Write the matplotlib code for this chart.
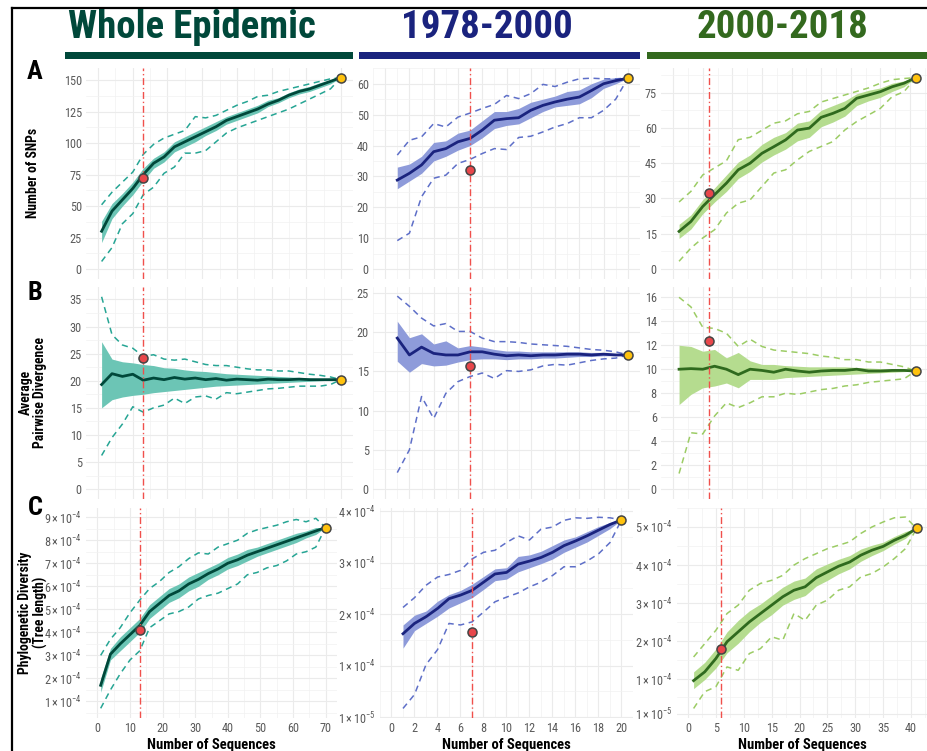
import matplotlib
matplotlib.use('Agg')
import matplotlib.pyplot as plt
from matplotlib import font_manager as fm
from matplotlib.lines import Line2D
from matplotlib.patches import Rectangle
import numpy as np

# ---------------- fonts ----------------
names = {f.name for f in fm.fontManager.ttflist}
COND = None
for cand in ['Roboto Condensed', 'Open Sans Condensed', 'Liberation Sans Narrow']:
    if cand in names:
        COND = cand
        break
BASE = COND or 'Roboto'
TSCALE = 1.0 if COND else 0.82
plt.rcParams['font.family'] = [BASE, 'DejaVu Sans']
plt.rcParams['mathtext.fontset'] = 'custom'
plt.rcParams['mathtext.rm'] = BASE
plt.rcParams['mathtext.it'] = BASE + ':italic'
plt.rcParams['mathtext.bf'] = BASE + ':bold'

# ---------------- data ----------------
titles = ['Whole Epidemic', '1978-2000', '2000-2018']
row_letters = ['A', 'B', 'C']
row_titles = ['Number of SNPs', 'Average\nPairwise Divergence', 'Phylogenetic Diversity\n(Tree length)']
xlabel = 'Number of Sequences'

X1 = [1, 4, 7, 10, 13, 16, 19, 22, 25, 28, 31, 34, 37, 40, 43, 46, 49, 52, 55, 58, 61, 64, 67, 70]
X2 = [1, 2, 3, 4, 5, 6, 7, 8, 9, 10, 11, 12, 13, 14, 15, 16, 17, 18, 19, 20]
X3 = [1, 3, 5, 7, 9, 11, 13, 15, 17, 19, 21, 23, 25, 27, 29, 31, 33, 35, 37, 39, 41]

# Row A: number of SNPs
A1_med = [30, 46, 55, 64, 75, 84, 89, 97, 101, 105, 109, 113, 118, 121, 124, 127, 131, 134, 138, 141, 143, 146, 149, 152]
A1_lo = [21, 40, 50, 59, 70, 80, 85, 93, 97, 101, 106, 110, 115, 118, 121, 124, 129, 132, 136, 139, 141, 144, 147, 152]
A1_hi = [38, 52, 60, 69, 80, 88, 93, 101, 105, 109, 113, 117, 121, 124, 127, 130, 134, 136, 140, 143, 145, 148, 150, 152]
A1_dhi = [51, 61, 69, 77, 91, 99, 104, 107, 110, 121, 120, 122, 126, 130, 133, 137, 138, 141, 143, 145, 147, 149, 151, 152]
A1_dlo = [6, 17, 36, 44, 59, 65, 76, 81, 92, 92, 94, 101, 108, 112, 115, 118, 121, 124, 127, 131, 135, 139, 143, 152]

A2_med = [28.8, 31, 33.7, 38, 39, 41.2, 42.3, 45, 48.2, 48.7, 49, 51.4, 53, 54.1, 55, 55.7, 57.8, 60, 61, 61.8]
A2_lo = [26, 28.5, 31, 35, 36.5, 38.5, 40, 42.5, 45.5, 46.5, 47, 49, 51, 52.5, 53, 53.5, 55.5, 58.5, 60, 61.8]
A2_hi = [33, 34, 36.5, 41, 41.5, 44, 45, 48, 51, 51, 52, 54, 55, 56, 57.5, 58, 60, 61.5, 62, 61.8]
A2_dhi = [36.9, 41.7, 42.8, 47.1, 46, 49.2, 50.5, 52, 53.3, 56.2, 55.2, 56.8, 59.8, 59.1, 60.5, 61.6, 61.8, 61.6, 61.6, 61.8]
A2_dlo = [9.2, 11.6, 23.4, 29.4, 30.4, 34.2, 35.5, 37.4, 39, 38.7, 42.6, 43, 44.4, 46, 47.1, 49, 49, 51.4, 55, 61.8]

A3_med = [16, 20.2, 26.6, 31.6, 36.5, 42.2, 45, 49.2, 52, 54.9, 59.1, 59.9, 64.5, 66.2, 68.3, 72.6, 74, 75.4, 77.5, 79, 81.4]
A3_lo = [13, 17, 23.5, 28.5, 33, 38.5, 41.5, 45.5, 48.5, 51, 54.5, 56, 60.5, 62.5, 65, 69.5, 71.5, 73, 75.5, 77.5, 81.4]
A3_hi = [19, 23, 29.5, 34.5, 40, 45.5, 48.5, 53, 56, 58, 62, 63, 67.5, 69.5, 71.5, 74.5, 76, 77, 79, 80, 81.4]
A3_dhi = [28.5, 33, 40, 43, 46, 55, 56, 59, 62, 63, 66, 67, 71, 72.5, 74, 75.5, 77, 79, 80.5, 81, 81.4]
A3_dlo = [3.3, 8.9, 13.2, 16.7, 23.8, 28, 29.4, 35.1, 40.8, 42.2, 46.4, 50, 52.1, 54.2, 59.1, 62.7, 65.5, 68.3, 73.3, 75.4, 81.4]

# Row B: average pairwise divergence
B1_med = [19.3, 21.3, 20.8, 21.2, 20.1, 20.5, 20.2, 20.6, 20.3, 20.5, 20.2, 20.4, 20.1, 20.3, 20.2, 20.1, 20.3, 20.2, 20.2, 20.3, 20.2, 20.2, 20.2, 20.2]
B1_lo = [15.0, 16.5, 17.0, 17.3, 17.5, 17.8, 18.0, 18.2, 18.4, 18.6, 18.8, 19.0, 19.1, 19.2, 19.3, 19.4, 19.5, 19.6, 19.7, 19.8, 19.9, 20.0, 20.1, 20.2]
B1_hi = [27.2, 24.0, 23.5, 23.3, 23.0, 22.8, 22.4, 22.3, 22.0, 21.8, 21.7, 21.5, 21.3, 21.2, 21.1, 21.0, 20.9, 20.8, 20.7, 20.6, 20.5, 20.4, 20.3, 20.2]
B1_dhi = [35.5, 28.5, 26.6, 26.0, 24.5, 24.8, 24.0, 23.8, 24.0, 23.5, 23.0, 22.8, 22.8, 22.5, 22.2, 22.0, 22.0, 21.8, 21.8, 21.5, 21.2, 21.0, 20.7, 20.2]
B1_dlo = [6.2, 9.5, 12.0, 15.2, 14.2, 15.0, 15.5, 16.8, 15.8, 17.0, 17.2, 16.6, 17.8, 17.6, 17.9, 18.2, 18.5, 18.6, 18.8, 19.0, 19.0, 19.0, 19.3, 20.2]

B2_med = [19.25, 17.1, 18.1, 17.3, 17.1, 17.1, 17.5, 17.5, 17.2, 17.0, 17.1, 17.0, 17.1, 17.1, 17.2, 17.2, 17.1, 17.2, 17.1, 17.1]
B2_lo = [16.3, 14.9, 16.0, 15.7, 15.8, 16.2, 16.5, 16.6, 16.6, 16.5, 16.6, 16.6, 16.7, 16.7, 16.8, 16.9, 16.9, 17.0, 17.0, 17.1]
B2_hi = [21.4, 19.3, 19.8, 18.5, 18.9, 18.0, 18.3, 18.1, 17.8, 17.6, 17.6, 17.5, 17.5, 17.5, 17.5, 17.5, 17.4, 17.4, 17.3, 17.1]
B2_dhi = [24.6, 23.3, 21.8, 20.8, 21.1, 20.1, 20.1, 19.25, 18.8, 18.8, 18.7, 18.5, 18.4, 18.3, 18.2, 18.0, 17.8, 17.7, 17.5, 17.1]
B2_dlo = [2.1, 5.0, 11.8, 9.0, 12.2, 13.7, 14.35, 14.8, 14.1, 15.1, 15.0, 15.2, 15.7, 15.9, 15.8, 16.1, 16.4, 16.6, 16.7, 17.1]

B3_med = [10.0, 10.05, 10.0, 10.25, 10.0, 9.55, 10.0, 9.9, 9.75, 10.0, 9.85, 9.75, 9.85, 9.9, 9.9, 10.0, 9.85, 9.85, 9.9, 9.9, 9.85]
B3_lo = [7.05, 7.9, 8.45, 8.6, 8.85, 8.45, 9.15, 9.15, 9.15, 9.3, 9.35, 9.4, 9.45, 9.5, 9.55, 9.6, 9.65, 9.7, 9.75, 9.8, 9.85]
B3_hi = [12.0, 11.9, 11.5, 11.65, 10.95, 11.4, 10.7, 10.4, 10.4, 10.3, 10.25, 10.2, 10.2, 10.2, 10.2, 10.15, 10.1, 10.05, 10.0, 9.95, 9.85]
B3_dhi = [16.0, 15.2, 13.5, 13.4, 13.0, 11.9, 12.5, 11.9, 11.6, 11.5, 11.4, 11.3, 11.1, 11.0, 10.8, 10.8, 10.6, 10.6, 10.4, 10.2, 9.85]
B3_dlo = [1.3, 4.7, 4.6, 6.1, 7.2, 6.8, 7.2, 7.7, 7.7, 8.0, 7.9, 8.1, 8.3, 8.4, 8.6, 8.7, 8.9, 9.0, 9.1, 9.2, 9.85]

# Row C: phylogenetic diversity, values in units of 1e-4
C1_med = [1.7, 3.05, 3.5, 3.9, 4.3, 4.9, 5.25, 5.6, 5.8, 6.1, 6.3, 6.55, 6.75, 7.0, 7.15, 7.35, 7.5, 7.65, 7.8, 7.95, 8.1, 8.25, 8.4, 8.55]
C1_lo = [1.4, 2.8, 3.2, 3.6, 4.0, 4.6, 4.95, 5.3, 5.5, 5.8, 6.0, 6.3, 6.5, 6.75, 6.9, 7.1, 7.3, 7.45, 7.6, 7.75, 7.9, 8.1, 8.25, 8.55]
C1_hi = [2.0, 3.3, 3.8, 4.2, 4.6, 5.2, 5.55, 5.9, 6.1, 6.4, 6.6, 6.8, 7.0, 7.25, 7.4, 7.6, 7.7, 7.85, 8.0, 8.15, 8.3, 8.4, 8.55, 8.55]
C1_dhi = [3.0, 3.7, 4.2, 4.85, 5.4, 5.9, 6.2, 6.6, 6.85, 7.2, 7.45, 7.4, 7.7, 7.85, 8.0, 8.3, 8.45, 8.55, 8.65, 8.8, 8.9, 8.8, 8.95, 8.55]
C1_dlo = [0.7, 1.5, 2.2, 2.8, 3.2, 4.2, 4.5, 4.8, 4.9, 5.1, 5.45, 5.6, 5.7, 5.9, 6.1, 6.5, 6.6, 6.8, 6.9, 7.1, 7.4, 7.5, 7.7, 8.55]

C2_med = [1.62, 1.82, 1.95, 2.11, 2.3, 2.37, 2.46, 2.62, 2.78, 2.81, 2.97, 3.03, 3.1, 3.2, 3.33, 3.42, 3.52, 3.63, 3.74, 3.83]
C2_lo = [1.34, 1.68, 1.82, 1.96, 2.12, 2.22, 2.32, 2.48, 2.65, 2.68, 2.82, 2.9, 2.98, 3.07, 3.2, 3.3, 3.4, 3.53, 3.66, 3.83]
C2_hi = [1.79, 1.98, 2.06, 2.25, 2.38, 2.46, 2.58, 2.73, 2.88, 2.9, 3.12, 3.15, 3.22, 3.33, 3.44, 3.5, 3.6, 3.7, 3.78, 3.83]
C2_dhi = [2.13, 2.32, 2.56, 2.72, 2.77, 2.85, 3.07, 3.2, 3.24, 3.39, 3.52, 3.44, 3.65, 3.69, 3.82, 3.87, 3.86, 3.88, 3.87, 3.83]
C2_dlo = [0.17, 0.44, 1.02, 1.31, 1.82, 1.79, 1.85, 2.04, 2.24, 2.33, 2.41, 2.53, 2.62, 2.75, 2.92, 2.92, 3.03, 3.17, 3.39, 3.83]

C3_med = [0.97, 1.2, 1.55, 1.99, 2.25, 2.51, 2.73, 2.95, 3.17, 3.34, 3.43, 3.67, 3.82, 3.97, 4.08, 4.26, 4.39, 4.49, 4.65, 4.78, 4.96]
C3_lo = [0.76, 1.0, 1.3, 1.7, 1.95, 2.25, 2.5, 2.7, 2.95, 3.1, 3.2, 3.45, 3.6, 3.77, 3.9, 4.1, 4.25, 4.38, 4.55, 4.7, 4.96]
C3_hi = [1.2, 1.45, 1.8, 2.25, 2.55, 2.8, 2.98, 3.2, 3.42, 3.58, 3.66, 3.9, 4.03, 4.15, 4.25, 4.42, 4.52, 4.6, 4.75, 4.88, 4.96]
C3_dhi = [1.59, 1.94, 2.29, 2.73, 2.95, 3.34, 3.52, 3.6, 3.73, 4.0, 4.17, 4.3, 4.43, 4.52, 4.61, 4.83, 5.0, 5.13, 5.24, 5.26, 4.96]
C3_dlo = [0.24, 0.68, 0.81, 1.33, 1.24, 1.68, 1.81, 2.12, 2.03, 2.73, 2.55, 2.95, 3.08, 3.34, 3.43, 3.69, 3.78, 3.95, 4.17, 4.43, 4.96]

# observed (red) points: x position and value per row
RED_X = [13, 7, 6]
RED_A = [72, 32, 32.3]
RED_B = [24.2, 15.7, 12.35]
RED_C = [4.1, 1.65, 1.8]   # units of 1e-4

# tick values
XT = [[0, 10, 20, 30, 40, 50, 60, 70], [0, 2, 4, 6, 8, 10, 12, 14, 16, 18, 20], [0, 5, 10, 15, 20, 25, 30, 35, 40]]
YT_A = [[0, 25, 50, 75, 100, 125, 150], [0, 10, 20, 30, 40, 50, 60], [0, 15, 30, 45, 60, 75]]
YT_B = [[0, 5, 10, 15, 20, 25, 30, 35], [0, 5, 10, 15, 20, 25], [0, 2, 4, 6, 8, 10, 12, 14, 16]]
YT_C = [[1, 2, 3, 4, 5, 6, 7, 8, 9], [0, 1, 2, 3, 4], [0.1, 1, 2, 3, 4, 5]]   # units of 1e-4
YL_C = [[r'$%d\times10^{-4}$' % v for v in YT_C[0]],
        [r'$1\times10^{-5}$'] + [r'$%d\times10^{-4}$' % v for v in YT_C[1][1:]],
        [r'$1\times10^{-5}$'] + [r'$%d\times10^{-4}$' % v for v in YT_C[2][1:]]]

# ---------------- style ----------------
PAL = [
    dict(title='#00483A', line='#00483A', band='#6CC5B5', dash='#26A594'),
    dict(title='#1A237E', line='#1A237E', band='#8E9BDA', dash='#5E6FC8'),
    dict(title='#33691E', line='#2F6A1E', band='#B5DC8F', dash='#9CCC65'),
]
W, H = 928, 751
fig = plt.figure(figsize=(W / 100, H / 100), dpi=100)
fig.patch.set_facecolor('white')

def add_ax(l, t, r, b):
    return fig.add_axes([l / W, 1 - b / H, (r - l) / W, (b - t) / H])

ROWS_TB = [(68, 278.6), (286.5, 498.7), (507.5, 718)]
COLS_AB = [(86, 353), (373, 640), (661, 928)]
COLS_C = [(86, 337), (380, 633), (676.6, 928)]
XLIM = [(-3.5, 73.5), (-1, 21), (-2.05, 43.05)]
YLIM_A = [(-7.6, 159.6), (-3.1, 65.1), (-4.07, 85.47)]
YLIM_B = [(-1.78, 37.4), (-1.23, 25.83), (-0.8, 16.9)]
YLIM_C = [(0.28e-4, 9.42e-4), (-0.0155e-4, 4.07e-4), (-0.01e-4, 5.51e-4)]

TICK_FS = 8.8
def minors(major, lim):
    step = major[-1] - major[-2]
    mids = [(a + b) / 2 for a, b in zip(major[:-1], major[1:])]
    mids += [major[0] - step / 2, major[-1] + step / 2]
    return [m for m in mids if lim[0] <= m <= lim[1]]

def panel(ax, x, med, lo, hi, dlo, dhi, rx, ry, pal, xlim, ylim, xt, yt, ylabels, show_x, scale=1.0):
    x = np.asarray(x)
    med = np.asarray(med) * scale
    lo = np.asarray(lo) * scale
    hi = np.asarray(hi) * scale
    dlo = np.asarray(dlo) * scale
    dhi = np.asarray(dhi) * scale
    ax.set_xlim(xlim)
    ax.set_ylim(ylim)
    ax.set_xticks(xt)
    ax.set_xticks(minors(xt, xlim), minor=True)
    ytv = [v * scale for v in yt]
    ax.set_yticks(ytv)
    ax.set_yticks(minors(ytv, ylim), minor=True)
    if ylabels is not None:
        ax.set_yticklabels(ylabels)
    else:
        ax.set_yticklabels([str(v) for v in yt])
    if not show_x:
        ax.set_xticklabels([])
    ax.grid(which='major', color='#EBEBEB', lw=0.8)
    ax.grid(which='minor', color='#F2F2F2', lw=0.5)
    ax.set_axisbelow(True)
    for s in ax.spines.values():
        s.set_visible(False)
    ax.tick_params(which='both', length=0, labelsize=TICK_FS, labelcolor='#5A5A5A', pad=3)
    ax.fill_between(x, lo, hi, color=pal['band'], lw=0, zorder=2)
    ax.plot(x, dhi, color=pal['dash'], lw=1.1, dashes=(4, 3), zorder=3)
    ax.plot(x, dlo, color=pal['dash'], lw=1.1, dashes=(4, 3), zorder=3)
    ax.plot(x, med, color=pal['line'], lw=2.0, zorder=4, solid_joinstyle='round')
    ax.axvline(rx, color='#F0504C', lw=1.0, dashes=(5, 2, 1, 2), zorder=5)
    ax.plot([rx], [ry * scale], 'o', ms=6.5, mfc='#E8474B', mec='#444444', mew=1.1, zorder=6)
    ax.plot([x[-1]], [med[-1]], 'o', ms=6.5, mfc='#FFC20E', mec='#444444', mew=1.1, zorder=6)
    if show_x:
        ax.set_xlabel(xlabel, fontsize=10.5, fontweight='bold', labelpad=2)

DATA = [
    [(X1, A1_med, A1_lo, A1_hi, A1_dlo, A1_dhi), (X2, A2_med, A2_lo, A2_hi, A2_dlo, A2_dhi), (X3, A3_med, A3_lo, A3_hi, A3_dlo, A3_dhi)],
    [(X1, B1_med, B1_lo, B1_hi, B1_dlo, B1_dhi), (X2, B2_med, B2_lo, B2_hi, B2_dlo, B2_dhi), (X3, B3_med, B3_lo, B3_hi, B3_dlo, B3_dhi)],
    [(X1, C1_med, C1_lo, C1_hi, C1_dlo, C1_dhi), (X2, C2_med, C2_lo, C2_hi, C2_dlo, C2_dhi), (X3, C3_med, C3_lo, C3_hi, C3_dlo, C3_dhi)],
]
REDS = [RED_A, RED_B, RED_C]
YLIMS = [YLIM_A, YLIM_B, YLIM_C]
YTS = [YT_A, YT_B, YT_C]

for r in range(3):
    t, b = ROWS_TB[r]
    for c in range(3):
        l, rr = (COLS_C if r == 2 else COLS_AB)[c]
        ax = add_ax(l, t, rr, b)
        x, med, lo, hi, dlo, dhi = DATA[r][c]
        panel(ax, x, med, lo, hi, dlo, dhi, RED_X[c], REDS[r][c], PAL[c], XLIM[c], YLIMS[r][c],
              XT[c], YTS[r][c], YL_C[c] if r == 2 else None, r == 2, scale=1e-4 if r == 2 else 1.0)

# titles and colour bars
TITLE_X = [192, 487, 783]
BARS = [(65, 353), (359, 640), (647, 928)]
for c in range(3):
    fig.text(TITLE_X[c] / W, 1 - 27 / H, titles[c], fontsize=28 * TSCALE, fontweight='bold',
             color=PAL[c]['title'], ha='center', va='center')
    l, r = BARS[c]
    fig.patches.append(Rectangle((l / W, 1 - 59 / H), (r - l) / W, 7 / H, transform=fig.transFigure,
                                 color=PAL[c]['title'], lw=0))

# row letters and row titles
LET_Y = [72, 293, 508]
for r in range(3):
    fig.text(35 / W, 1 - LET_Y[r] / H, row_letters[r], fontsize=19, fontweight='bold', ha='center', va='center')
    t, b = ROWS_TB[r]
    fig.text(33 / W, 1 - (t + b) / 2 / H, row_titles[r], fontsize=9.8, fontweight='bold', rotation=90,
             ha='center', va='center', multialignment='center', linespacing=1.0)

# outer frame (left and top)
fig.add_artist(Line2D([12 / W, 12 / W], [0, 1 - 8 / H], color='black', lw=1.6, transform=fig.transFigure))
fig.add_artist(Line2D([12 / W, 1], [1 - 8 / H, 1 - 8 / H], color='black', lw=1.6, transform=fig.transFigure))

fig.savefig('out.png', dpi=100, facecolor='white')
